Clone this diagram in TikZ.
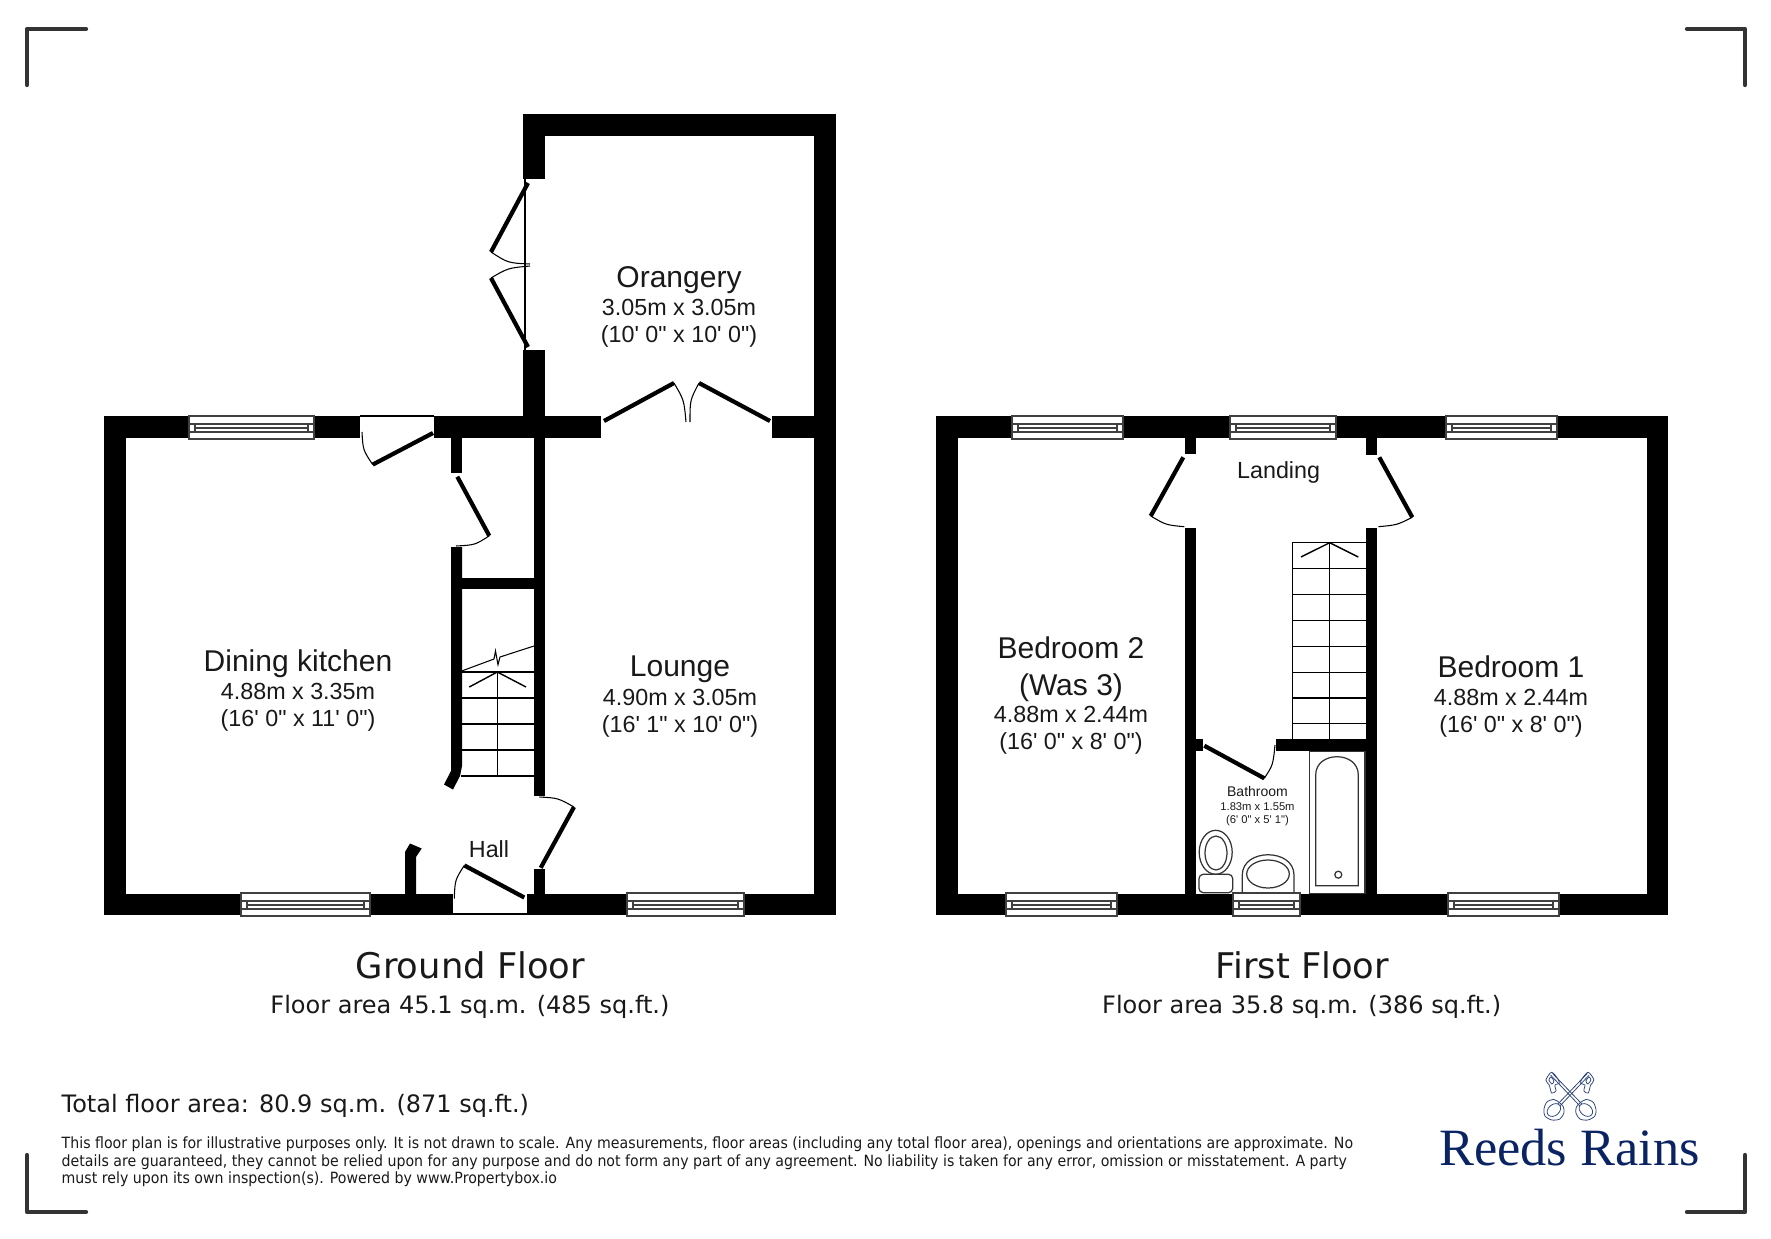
\documentclass[tikz,border=0pt]{standalone}
\usepackage{fontspec}
\newfontfamily\roomfont{Liberation Sans}
\newfontfamily\titlefont{DejaVu Sans}
\newfontfamily\smallfont[FakeStretch=0.915]{DejaVu Sans}
\newfontfamily\logofont{Liberation Serif}

\newcommand{\roomname}{\fontsize{8.54}{9.6}\selectfont}
\newcommand{\roomsize}{\roomfont\fontsize{6.63}{7.7}\selectfont}

\tikzset{
    wall/.style={fill=black},
    leaf/.style={draw=black, line width=1.2pt},
    swing/.style={draw=black, line width=0.3pt},
    tread/.style={draw=black, line width=0.4pt},
    fitting/.style={draw=black!80, line width=0.35pt},
    glass/.style={draw=black!75, fill=white, line width=0.4pt},
    corner/.style={draw=cornergrey, line width=1.2pt, line cap=round, line join=round},
    keyline/.style={draw=reedsblue!85, line width=0.22pt},
    roomlabel/.style={align=center, inner sep=0pt, text=black!90, font=\roomsize}
}

\begin{document}
\begin{tikzpicture}[x=0.01cm,y=-0.01cm]

    % Colors for the marks and the logo
    \definecolor{cornergrey}{RGB}{51,51,51}
    \definecolor{reedsblue}{RGB}{10,36,99}

    \useasboundingbox (0,0) rectangle (1771,1239);

    % Crop marks
    \draw[corner] (27,85) -- (27,29) -- (86,29);
    \draw[corner] (1687,29) -- (1745,29) -- (1745,85);
    \draw[corner] (27,1155) -- (27,1212) -- (86,1212);
    \draw[corner] (1687,1212) -- (1745,1212) -- (1745,1155);

    % Ground floor walls
    \fill[wall] (104,416) rectangle (360,438);
    \fill[wall] (434,416) rectangle (601,438);
    \fill[wall] (772,416) rectangle (836,438);
    \fill[wall] (104,416) rectangle (126,915);
    \fill[wall] (104,894) rectangle (453,915);
    \fill[wall] (527,894) rectangle (836,915);
    \fill[wall] (814,114) rectangle (836,915);
    \fill[wall] (523,114) rectangle (836,136);
    \fill[wall] (523,114) rectangle (545,179);
    \fill[wall] (523,350) rectangle (545,438);
    \fill[wall] (534,438) rectangle (545,796);
    \fill[wall] (534,869) rectangle (545,894);
    \fill[wall] (451,438) rectangle (462,473);
    \fill[wall] (462,578) rectangle (534,589);
    \fill[wall] (451,547) -- (462,547) -- (462,766) -- (460,776) -- (453,789.5) -- (444,784.5) -- (451,771) -- cycle;
    \fill[wall] (405,894) -- (416,894) -- (416,857) -- (421.7,848.5) -- (410,843.5) -- (405,852) -- cycle;

    % First floor walls
    \fill[wall] (936,416) rectangle (1668,438);
    \fill[wall] (936,416) rectangle (958,915);
    \fill[wall] (1647,416) rectangle (1668,915);
    \fill[wall] (936,894) rectangle (1668,915);
    \fill[wall] (1185,438) rectangle (1196,454);
    \fill[wall] (1185,528) rectangle (1196,894);
    \fill[wall] (1366,438) rectangle (1377,455);
    \fill[wall] (1366,528) rectangle (1377,894);
    \fill[wall] (1276,739) rectangle (1366,751);
    \fill[wall] (1196,739) rectangle (1203,751);

    % Windows, each one is left/right/top
    \foreach \xa/\xb/\ya in {189/314/416, 1012/1123/416, 1230/1336/416, 1446/1557/416,
                             241/370/893, 627/744/893, 1006/1117/893, 1233/1300/893, 1448/1559/893} {
        \draw[glass] (\xa,\ya) rectangle (\xb,\ya+23);
        \draw[glass] (\xa,\ya+8) rectangle (\xb,\ya+16);
        \draw[glass] (\xa+6,\ya+8) rectangle (\xb-6,\ya+16);
        \draw[glass] (\xa+6,\ya+12) -- (\xb-6,\ya+12);
    }

    % Door openings and glazing
    \draw[swing] (360,416) -- (434,416);
    \draw[swing] (453,914) -- (527,914);
    \draw[swing] (525,179) -- (525,350);

    % Ground floor doors
    \draw[leaf] (433,433) -- (372.7,464.6);
    \draw[swing] (372.7,464.6) .. controls (363,450) .. (362,432);
    \draw[leaf] (457.3,476.7) -- (489.3,535.8);
    \draw[swing] (489.3,535.8) .. controls (475,545) .. (456,546);
    \draw[leaf] (574,807) -- (540.7,867.8);
    \draw[swing] (574,807) .. controls (558,798) .. (539.3,797);
    \draw[leaf] (524.3,897.5) -- (464.3,865.4);
    \draw[swing] (464.3,865.4) .. controls (455,880) .. (454.3,898.5);
    \draw[leaf] (528,183) -- (491,252);
    \draw[swing] (491,252) .. controls (508,263) .. (530,264);
    \draw[leaf] (528,347) -- (491,278);
    \draw[swing] (491,278) .. controls (508,268) .. (530,266);
    \draw[leaf] (604,421) -- (674,383);
    \draw[swing] (674,383) .. controls (684,400) .. (686,422);
    \draw[leaf] (770,421) -- (699,383);
    \draw[swing] (699,383) .. controls (690,400) .. (690,422);

    % First floor doors
    \draw[leaf] (1183.3,457.3) -- (1150.7,516);
    \draw[swing] (1150.7,516) .. controls (1166,525) .. (1184.3,526.7);
    \draw[leaf] (1379.3,457.3) -- (1412.3,517.3);
    \draw[swing] (1412.3,517.3) .. controls (1397,525) .. (1378.3,526.7);
    \draw[leaf] (1204.3,745.7) -- (1264.3,778.3);
    \draw[swing] (1264.3,778.3) .. controls (1273,765) .. (1275,745);

    % Ground floor stairs
    \foreach \ya in {672,698,724,750,776} {
        \draw[tread] (461,\ya) -- (534,\ya);
    }
    \draw[tread] (497.3,672) -- (497.3,776);
    \draw[tread] (469.3,687) -- (497.3,672) -- (526,687);
    \draw[swing] (461.7,671) -- (494,659) -- (495.5,651) -- (498,664.7) -- (500,657) -- (534,646);

    % First floor stairs
    \foreach \ya in {542.7,568.7,594.7,620.7,646.3,672.3,698,723.7} {
        \draw[tread] (1292.3,\ya) -- (1366,\ya);
    }
    \draw[tread] (1292.3,542.7) -- (1292.3,739);
    \draw[tread] (1329.7,542.7) -- (1329.7,739);
    \draw[tread] (1301,557) -- (1329.7,542.7) -- (1358.3,557);

    % Bathroom fittings
    \draw[fitting] (1309.3,751.7) rectangle (1365,893.3);
    \draw[fitting] (1315.7,885.7) -- (1315.7,775) .. controls (1315.7,750.6) and (1358.3,750.6) .. (1358.3,775) -- (1358.3,885.7) -- cycle;
    \draw[fitting] (1338.3,874.7) circle (3.5);
    \draw[fitting] (1215.7,852.3) ellipse (16.5 and 22);
    \draw[fitting] (1216,853) ellipse (11 and 17);
    \draw[fitting, rounded corners=1.2pt] (1199,874.3) rectangle (1232.7,892.7);
    \draw[fitting] (1242.3,893) -- (1242.3,875) .. controls (1242.3,848) and (1294,848) .. (1294,875) -- (1294,893);
    \draw[fitting] (1268,874) ellipse (21.3 and 14);

    % Room labels
    \node[roomlabel] (orangery) at (679,307) {{\roomname Orangery}\\[0.45pt]3.05m x 3.05m\\(10' 0" x 10' 0")};
    \node[roomlabel] (dining) at (298,690.4) {{\roomname Dining kitchen}\\[0.45pt]4.88m x 3.35m\\(16' 0" x 11' 0")};
    \node[roomlabel] (lounge) at (680,696.4) {{\roomname Lounge}\\[0.45pt]4.90m x 3.05m\\(16' 1" x 10' 0")};
    \node[roomlabel] (hall) at (489,849) {Hall};
    \node[roomlabel] (landing) at (1278.6,472) {Landing};
    \node[roomlabel] (bedtwo) at (1071,695.8) {{\roomname Bedroom 2}\\[2.6pt]{\roomname (Was 3)}\\[0.1pt]4.88m x 2.44m\\(16' 0" x 8' 0")};
    \node[roomlabel] (bedone) at (1511,696.4) {{\roomname Bedroom 1}\\[0.45pt]4.88m x 2.44m\\(16' 0" x 8' 0")};
    \node[roomlabel, font=\roomfont\fontsize{3.19}{3.75}\selectfont] (bathroom) at (1257.5,806) {{\fontsize{3.98}{4.3}\selectfont Bathroom}\\[0.2pt]1.83m x 1.55m\\(6' 0" x 5' 1")};

    % Floor captions
    \node[roomlabel, font=\titlefont\fontsize{10.05}{12}\selectfont] (groundtitle) at (470.4,965) {Ground Floor};
    \node[roomlabel, font=\titlefont\fontsize{6.83}{8}\selectfont] (groundarea) at (470,1007) {Floor area 45.1 sq.m. (485 sq.ft.)};
    \node[roomlabel, font=\titlefont\fontsize{10.05}{12}\selectfont] (firsttitle) at (1302.3,965) {First Floor};
    \node[roomlabel, font=\titlefont\fontsize{6.83}{8}\selectfont] (firstarea) at (1301.7,1007) {Floor area 35.8 sq.m. (386 sq.ft.)};

    % Total and small print
    \node[roomlabel, anchor=base west, font=\titlefont\fontsize{6.82}{8}\selectfont] (total) at (61,1112) {Total floor area: 80.9 sq.m. (871 sq.ft.)};
    \node[roomlabel, anchor=north west, align=left, font=\smallfont\fontsize{4.4}{5}\selectfont] (smallprint) at (61,1136) {
        This floor plan is for illustrative purposes only. It is not drawn to scale. Any measurements, floor areas (including any total floor area), openings and orientations are approximate. No\\
        details are guaranteed, they cannot be relied upon for any purpose and do not form any part of any agreement. No liability is taken for any error, omission or misstatement. A party\\
        must rely upon its own inspection(s). Powered by www.Propertybox.io};

    % Logo
    \node[inner sep=0pt, anchor=base, text=reedsblue, font=\logofont\fontsize{14.9}{18}\selectfont] (reeds) at (1569.5,1165.7) {Reeds Rains};
    \foreach \side in {1,-1} {
        \begin{scope}[xshift=15.69cm, xscale=\side]
            \draw[keyline] (-17.4,1073.4) -- (12,1104);
            \draw[keyline] (-19.2,1075.2) -- (10,1106);
            \draw[keyline] plot[smooth cycle] coordinates {(-18.3,1072.3) (-24,1080) (-20.7,1085) (-18.3,1093) (-14,1091) (-15,1085) (-10.7,1083.3) (-12,1079)};
            \draw[keyline] plot[smooth cycle] coordinates {(-19,1077) (-21,1080) (-18,1084) (-16,1081)};
            \draw[keyline] plot[smooth cycle] coordinates {(10,1103) (16,1099.5) (23,1102) (26,1109) (25,1116) (18,1120) (10,1119) (6,1113) (6.5,1107)};
            \draw[keyline, rotate around={-40:(16,1110)}] (16,1110) ellipse (7.5 and 5.5);
        \end{scope}
    }

\end{tikzpicture}
\end{document}
